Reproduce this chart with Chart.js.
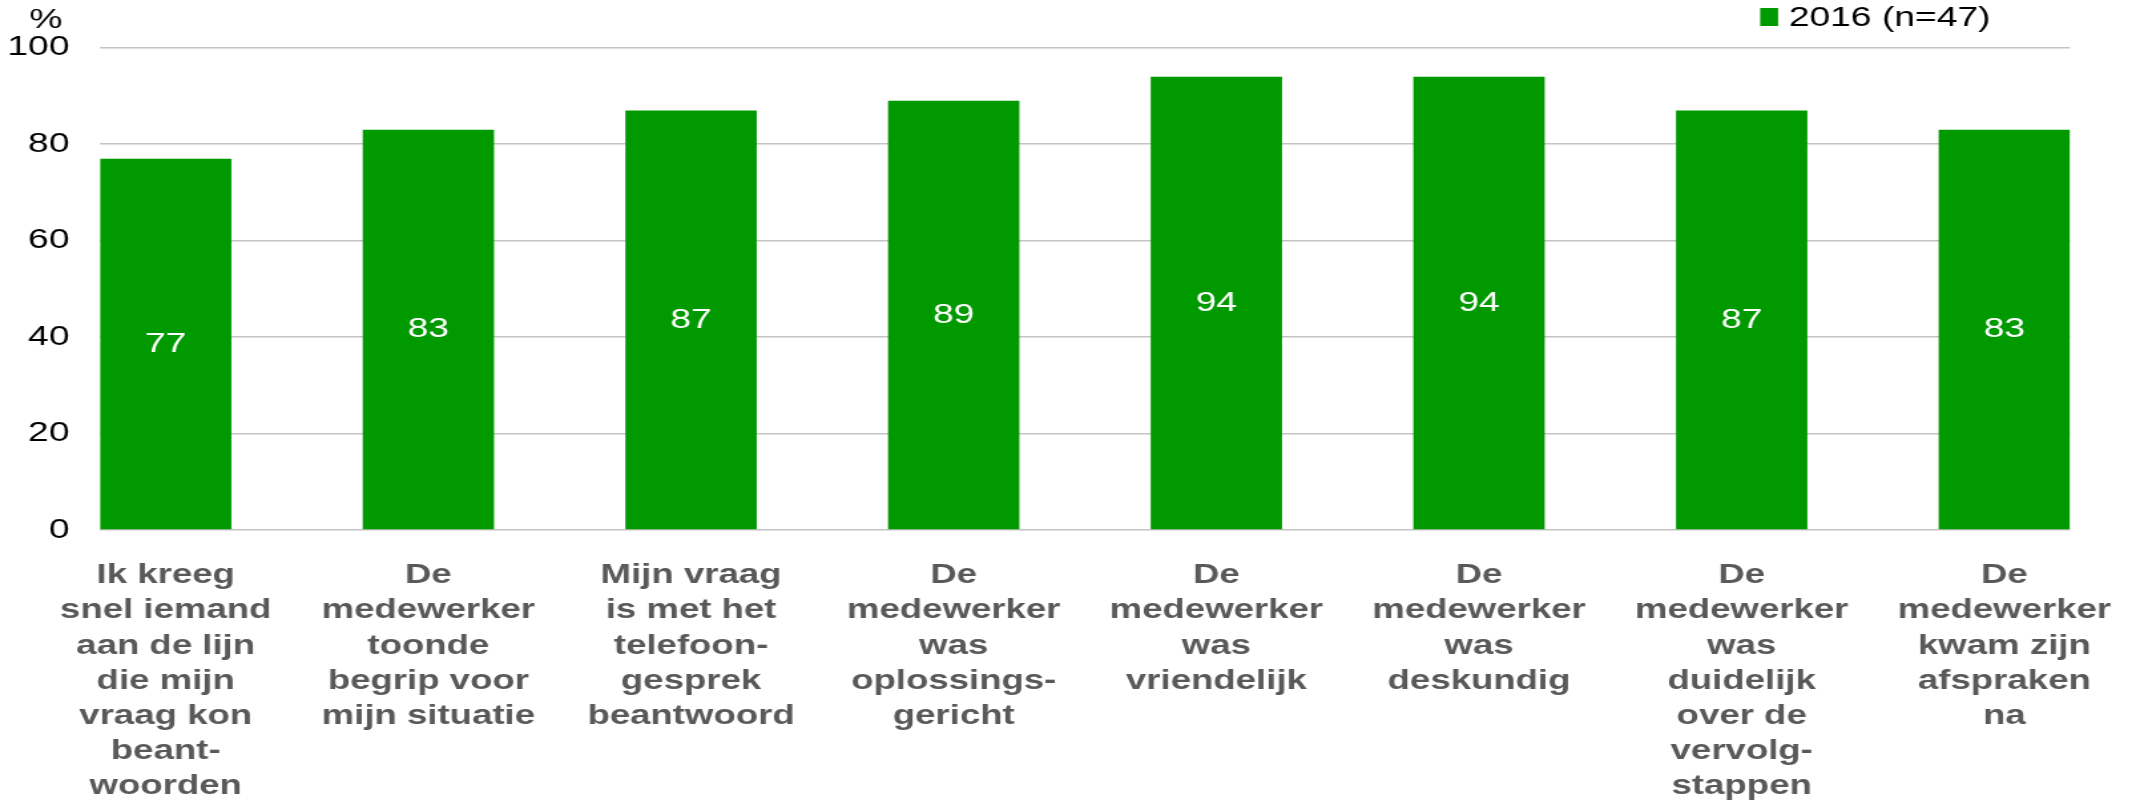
<!DOCTYPE html>
<html lang="nl">
<head>
<meta charset="UTF-8">
<title>Tevredenheid contact 2016</title>
<script src="https://cdn.jsdelivr.net/npm/chart.js@4.4.1/dist/chart.umd.min.js"></script>
<style>
    html, body { margin: 0; padding: 0; background: #ffffff; overflow: hidden; }
    /* the original picture is stretched sideways, so the canvas is stretched the same way */
    #chart { display: block; width: 2136px !important; height: 806px !important; }
</style>
</head>
<body>
<canvas id="chart" width="1606" height="806"></canvas>
<script>
    // Data
    const categories = [
        ['Ik kreeg', 'snel iemand', 'aan de lijn', 'die mijn', 'vraag kon', 'beant-', 'woorden'],
        ['De', 'medewerker', 'toonde', 'begrip voor', 'mijn situatie'],
        ['Mijn vraag', 'is met het', 'telefoon-', 'gesprek', 'beantwoord'],
        ['De', 'medewerker', 'was', 'oplossings-', 'gericht'],
        ['De', 'medewerker', 'was', 'vriendelijk'],
        ['De', 'medewerker', 'was', 'deskundig'],
        ['De', 'medewerker', 'was', 'duidelijk', 'over de', 'vervolg-', 'stappen'],
        ['De', 'medewerker', 'kwam zijn', 'afspraken', 'na']
    ];
    const values2016 = [77, 83, 87, 89, 94, 94, 87, 83];
    const seriesLabel = '2016 (n=47)';
    const yTicks = [0, 20, 40, 60, 80, 100];
    const unitLabel = '%';

    const fontFamily = '"Liberation Sans", Arial, sans-serif';
    const fontSize = 28;
    const barGreen = '#009900';

    // white value in the middle of every bar
    const barValues = {
        id: 'barValues',
        afterDatasetsDraw(chart) {
            const ctx = chart.ctx;
            const meta = chart.getDatasetMeta(0);
            ctx.save();
            ctx.fillStyle = '#ffffff';
            ctx.font = fontSize + 'px ' + fontFamily;
            ctx.textAlign = 'center';
            ctx.textBaseline = 'middle';
            meta.data.forEach((bar, i) => {
                ctx.fillText(String(values2016[i]), bar.x, (bar.y + bar.base) / 2);
            });
            ctx.restore();
        }
    };

    // "%" above the y axis and the legend top right
    const header = {
        id: 'header',
        afterDraw(chart) {
            const ds = chart.data.datasets[0];
            const ctx = chart.ctx;
            const x = chart.chartArea.right - 233;
            ctx.save();
            ctx.font = fontSize + 'px ' + fontFamily;
            ctx.textBaseline = 'middle';
            ctx.textAlign = 'left';
            ctx.fillStyle = '#000000';
            ctx.fillText(unitLabel, 22, 20);
            ctx.fillStyle = ds.backgroundColor;
            ctx.fillRect(x, 8, 13.5, 18);
            ctx.fillStyle = '#000000';
            ctx.fillText(ds.label, x + 21.5, 18);
            ctx.restore();
        }
    };

    const ctx = document.getElementById('chart').getContext('2d');
    const chart = new Chart(ctx, {
        type: 'bar',
        data: {
            datasets: [{
                label: seriesLabel,
                data: values2016.map((v, i) => ({ x: i, y: v })),
                backgroundColor: barGreen,
                borderWidth: 0,
                barPercentage: 0.5,
                categoryPercentage: 1.0
            }]
        },
        options: {
            responsive: false,
            animation: false,
            layout: {
                padding: { left: 0, right: 49.6, top: 47.7, bottom: 0 }
            },
            plugins: {
                legend: { display: false },
                tooltip: { enabled: false },
                title: { display: false }
            },
            scales: {
                x: {
                    type: 'linear',
                    min: -0.25,
                    max: 7.25,
                    offset: false,
                    grid: { display: false, drawTicks: false, offset: false },
                    border: { display: false },
                    afterBuildTicks: (scale) => {
                        scale.ticks = categories.map((c, i) => ({ value: i }));
                    },
                    afterFit: (scale) => {
                        scale.height = 276;
                        // labels may hang past the plot edges, like in the original
                        scale.paddingLeft = 0;
                        scale.paddingRight = 0;
                    },
                    ticks: {
                        autoSkip: false,
                        maxRotation: 0,
                        minRotation: 0,
                        padding: 28,
                        color: '#595959',
                        font: { family: fontFamily, size: 27.5, weight: 'bold', lineHeight: 1.28 },
                        callback: (value) => categories[value]
                    }
                },
                y: {
                    min: 0,
                    max: 100,
                    afterBuildTicks: (scale) => {
                        scale.ticks = yTicks.map(v => ({ value: v }));
                    },
                    afterFit: (scale) => {
                        scale.width = 75.2;
                    },
                    grid: { color: '#c4c4c4', lineWidth: 1.5, drawTicks: false },
                    border: { display: false },
                    ticks: {
                        padding: 23,
                        color: '#000000',
                        font: { family: fontFamily, size: fontSize, weight: 'normal' }
                    }
                }
            }
        },
        plugins: [barValues, header]
    });
</script>
</body>
</html>
